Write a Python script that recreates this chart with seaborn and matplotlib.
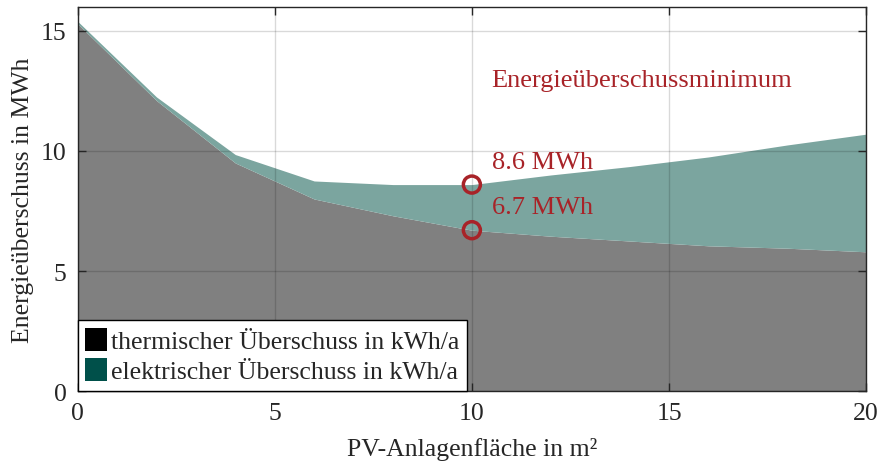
import numpy as np
import pandas as pd
import matplotlib
matplotlib.use("Agg")
import matplotlib.pyplot as plt
from matplotlib.patches import Patch
import seaborn as sns

# PV-Anlagenfläche in m²
flaeche = [0, 2, 4, 6, 8, 10, 12, 14, 16, 18, 20]
# thermischer Überschuss (MWh)
thermisch = [15.3, 12.1, 9.5, 8.0, 7.3, 6.7, 6.45, 6.25, 6.05, 5.95, 5.8]
# Gesamtüberschuss thermisch + elektrisch (MWh)
gesamt = [15.4, 12.25, 9.85, 8.75, 8.6, 8.6, 9.0, 9.35, 9.75, 10.25, 10.7]

minimum_x = [10, 10]
minimum_y = [8.6, 6.7]
minimum_labels = ["8.6 MWh", "6.7 MWh"]

df = pd.DataFrame({"flaeche": flaeche, "thermisch": thermisch, "gesamt": gesamt})
df["elektrisch"] = df["gesamt"] - df["thermisch"]

sns.set_theme(style="ticks")
plt.rcParams["font.family"] = ["Liberation Serif", "DejaVu Serif"]

rot = "#a82328"
fs = 18.5

fig = plt.figure(figsize=(8.82, 4.64), dpi=100)
ax = fig.add_axes([0.088, 0.155, 0.894, 0.828])

# Flächen (gestapelt)
ax.fill_between(df["flaeche"], 0, df["thermisch"], color="#808080", lw=0, zorder=1)
ax.fill_between(df["flaeche"], df["thermisch"], df["gesamt"], color="#7ba59f", lw=0, zorder=1)

# Minimum-Markierungen
sns.scatterplot(x=minimum_x, y=minimum_y, ax=ax, marker="o", s=150,
                facecolors="none", edgecolor=rot, linewidth=2.5, zorder=5)
for yv, lab in zip(minimum_y, minimum_labels):
    ax.text(10.5, yv + 0.95, lab, color=rot, fontsize=19, va="center", ha="left")
ax.text(10.5, 12.95, "Energieüberschussminimum", color=rot, fontsize=19,
        va="center", ha="left")

ax.set_xlim(0, 20)
ax.set_ylim(0, 16)
ax.set_xticks([0, 5, 10, 15, 20])
ax.set_yticks([0, 5, 10, 15])
ax.grid(True, color="black", alpha=0.15, lw=1)
ax.set_axisbelow(False)
ax.tick_params(direction="in", top=True, right=True, labelsize=fs,
               length=6, width=1, color="#262626", pad=8)
for s in ax.spines.values():
    s.set_color("#262626")
    s.set_linewidth(1)
    s.set_zorder(6)

ax.set_xlabel("PV-Anlagenfläche in m²", fontsize=fs, color="#262626", labelpad=9)
ax.set_ylabel("Energieüberschuss in MWh", fontsize=fs, color="#262626", labelpad=5)

handles = [Patch(facecolor="black", edgecolor="none"),
           Patch(facecolor="#00504a", edgecolor="none")]
leg = ax.legend(handles, ["thermischer Überschuss in kWh/a",
                          "elektrischer Überschuss in kWh/a"],
                loc="lower left", fontsize=fs, frameon=True, fancybox=False,
                framealpha=1, edgecolor="black", borderaxespad=0,
                handlelength=0.85, handleheight=1.0, handletextpad=0.15,
                borderpad=0.3, labelspacing=0.2)
leg.get_frame().set_linewidth(1)
leg.set_zorder(10)

fig.savefig("out.png", dpi=100)
